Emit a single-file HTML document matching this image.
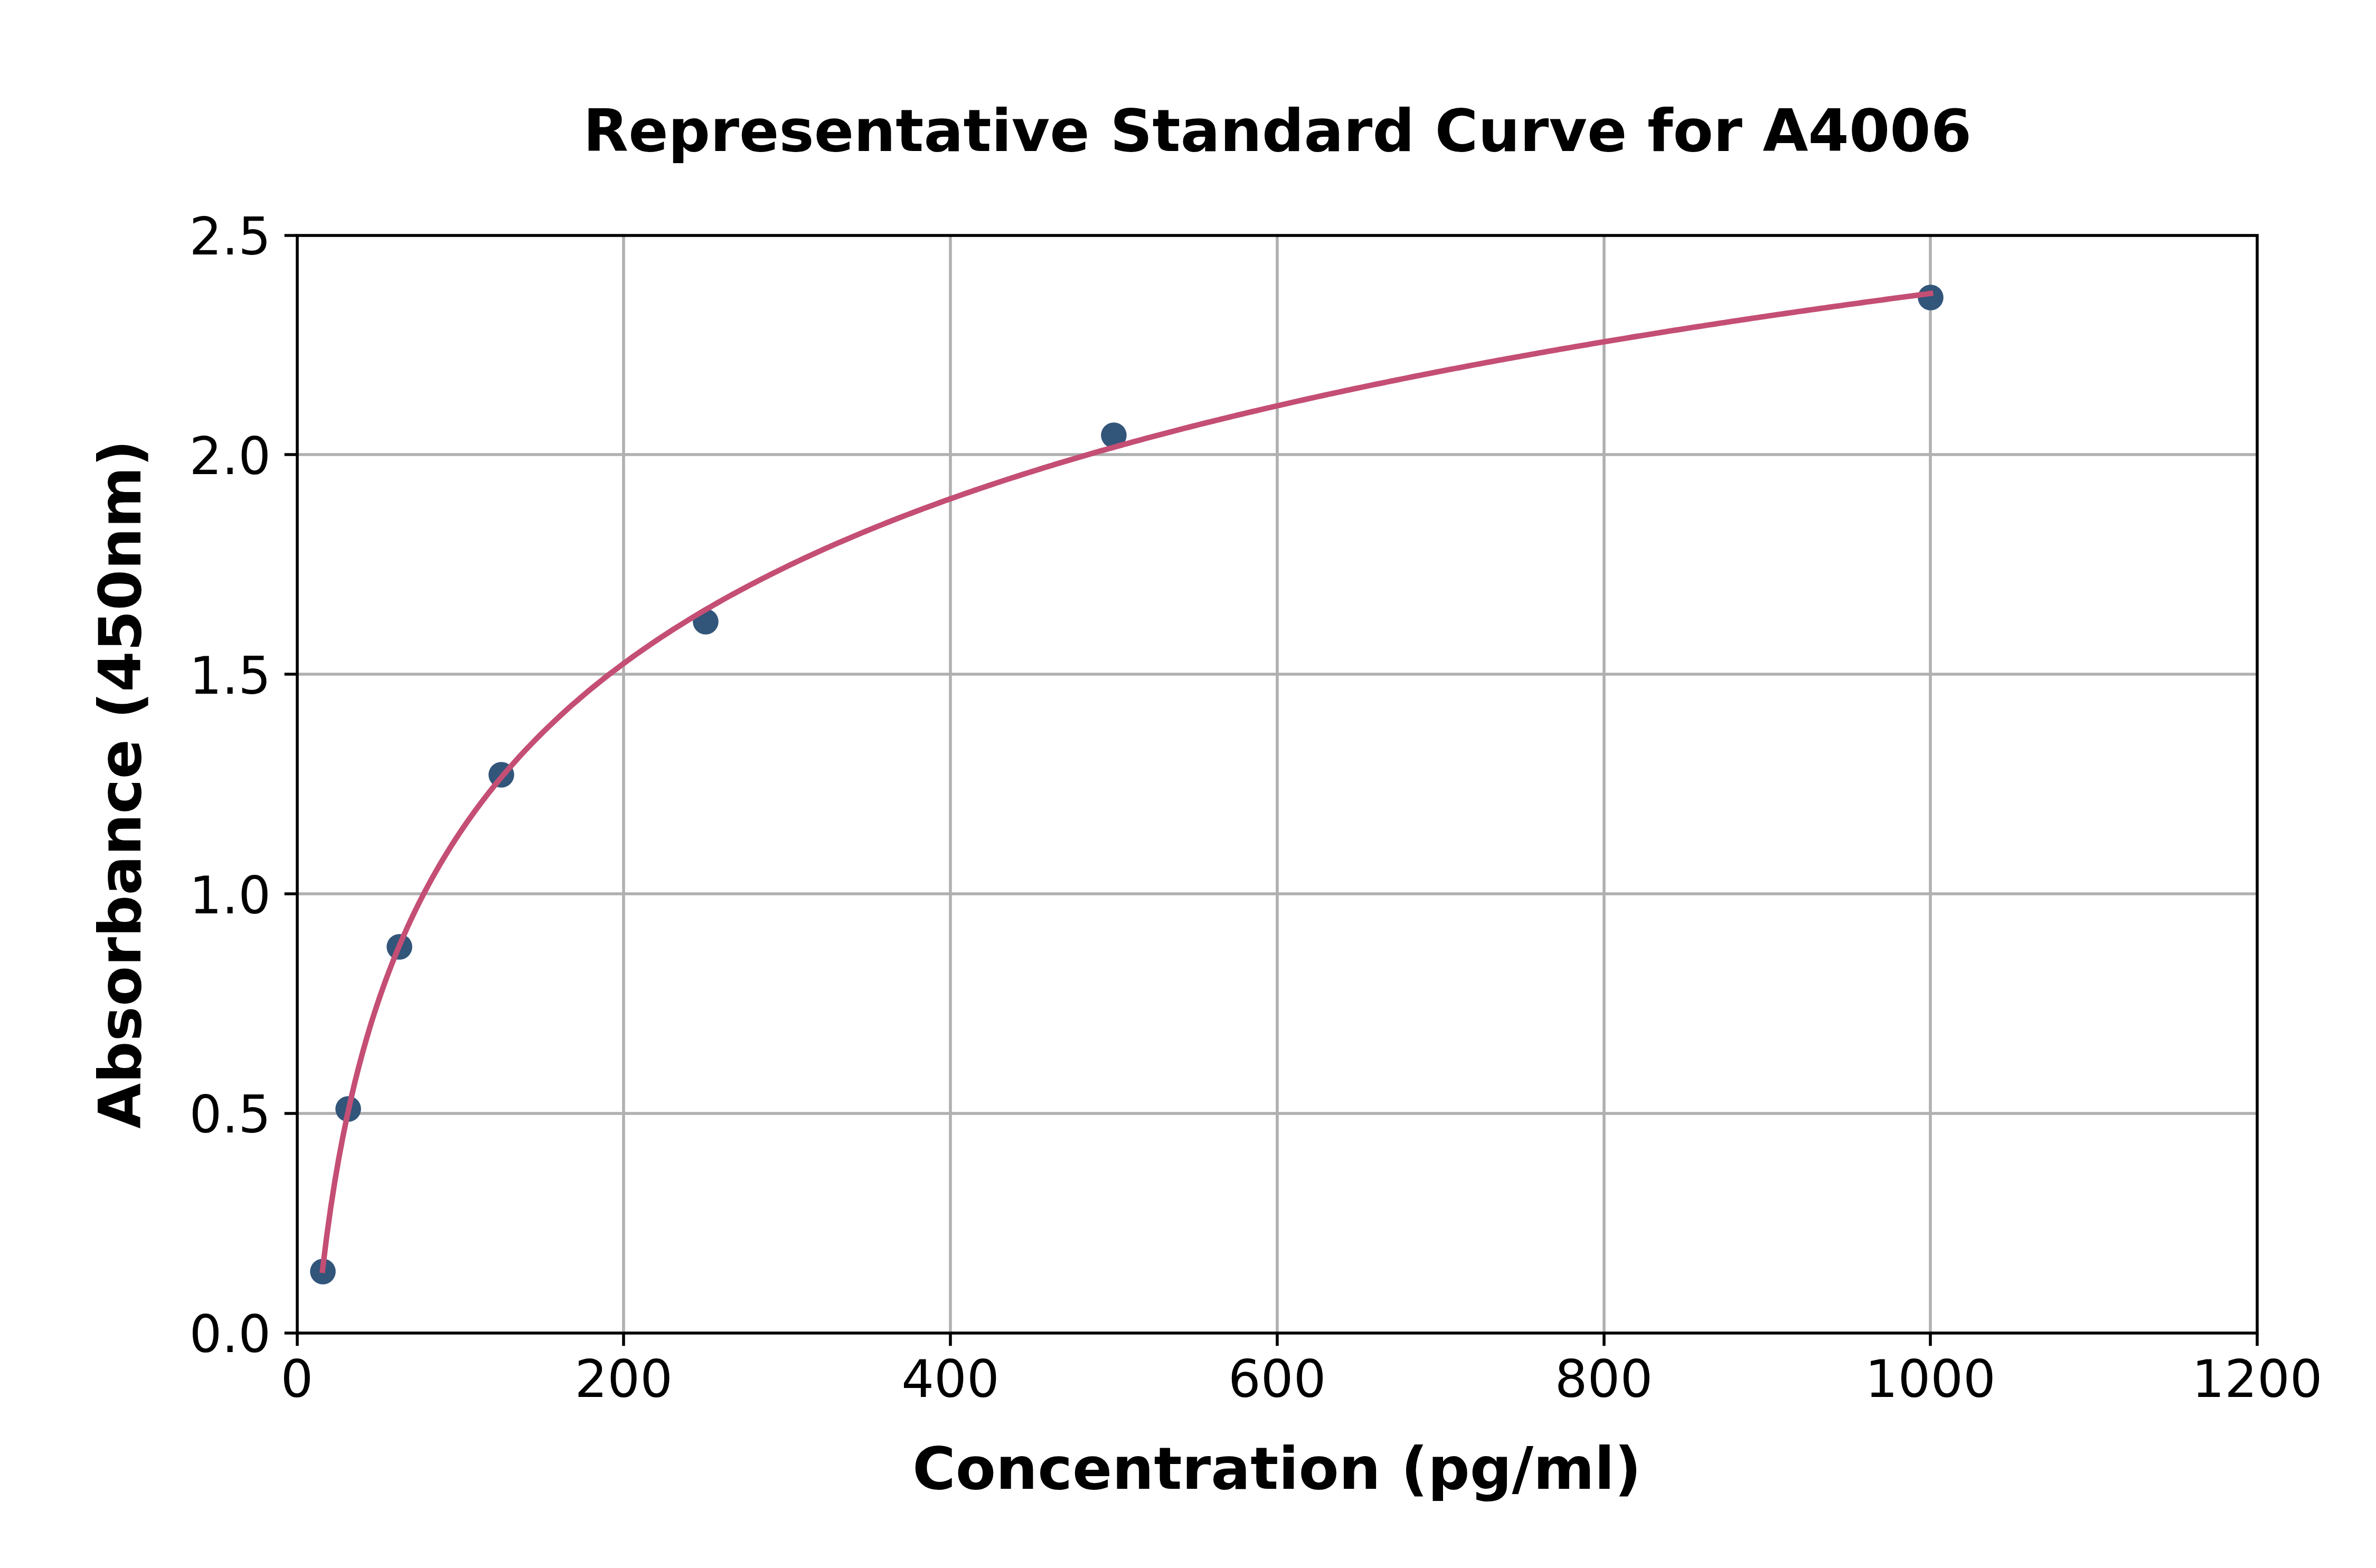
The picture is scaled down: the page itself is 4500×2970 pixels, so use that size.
<!DOCTYPE html>
<html lang="en"><head><meta charset="utf-8"><title>Representative Standard Curve for A4006</title>
<style>html,body{margin:0;padding:0;background:#fff}body{width:4500px;height:2970px;overflow:hidden}svg{display:block}text{font-family:"DejaVu Sans","Liberation Sans",sans-serif;fill:#000}.t{font-size:97.2px}.b{font-size:111.1px;font-weight:bold}</style></head><body>
<svg width="4500" height="2970" viewBox="0 0 4500 2970">
<rect width="4500" height="2970" fill="#fff"/>
<path d="M1181 446V2525M1800 446V2525M2419 446V2525M3038 446V2525M3656 446V2525M563 2109H4275M563 1693H4275M563 1277H4275M563 861H4275" stroke="#b0b0b0" stroke-width="5.56" fill="none"/>
<circle cx="611.5" cy="2408.5" r="24.3" fill="#32557a"/>
<circle cx="659.5" cy="2100.5" r="24.3" fill="#32557a"/>
<circle cx="756.5" cy="1793.5" r="24.3" fill="#32557a"/>
<circle cx="949.5" cy="1467.5" r="24.3" fill="#32557a"/>
<circle cx="1336.5" cy="1177.5" r="24.3" fill="#32557a"/>
<circle cx="2109.5" cy="824.5" r="24.3" fill="#32557a"/>
<circle cx="3656.5" cy="563.5" r="24.3" fill="#32557a"/>
<polyline points="610.84,2405.97 618.47,2343.94 626.11,2289.18 633.74,2240.13 641.37,2195.71 649.00,2155.10 656.64,2117.70 664.27,2083.03 671.90,2050.73 679.53,2020.48 687.17,1992.05 694.80,1965.22 702.43,1939.83 710.06,1915.73 717.70,1892.80 725.33,1870.92 732.96,1850.01 740.59,1829.99 748.23,1810.78 755.86,1792.32 763.49,1774.56 771.12,1757.44 778.76,1740.93 786.39,1724.97 794.02,1709.54 801.66,1694.60 809.29,1680.12 816.92,1666.08 824.55,1652.44 832.19,1639.20 839.82,1626.31 847.45,1613.78 855.08,1601.57 862.72,1589.68 870.35,1578.09 877.98,1566.77 885.61,1555.73 893.25,1544.95 900.88,1534.41 908.51,1524.10 916.14,1514.03 923.78,1504.17 931.41,1494.51 939.04,1485.06 946.67,1475.79 954.31,1466.71 961.94,1457.81 969.57,1449.07 977.20,1440.50 984.84,1432.09 992.47,1423.83 1000.10,1415.72 1007.74,1407.75 1015.37,1399.92 1023.00,1392.23 1030.63,1384.66 1038.27,1377.21 1045.90,1369.89 1053.53,1362.68 1061.16,1355.59 1068.80,1348.61 1076.43,1341.73 1084.06,1334.96 1091.69,1328.29 1099.33,1321.71 1106.96,1315.23 1114.59,1308.85 1122.22,1302.55 1129.86,1296.34 1137.49,1290.22 1145.12,1284.18 1152.75,1278.22 1160.39,1272.34 1168.02,1266.54 1175.65,1260.81 1183.29,1255.16 1190.92,1249.58 1198.55,1244.06 1206.18,1238.62 1213.82,1233.24 1221.45,1227.92 1229.08,1222.67 1236.71,1217.48 1244.35,1212.36 1251.98,1207.29 1259.61,1202.28 1267.24,1197.32 1274.88,1192.42 1282.51,1187.58 1290.14,1182.79 1297.77,1178.05 1305.41,1173.36 1313.04,1168.72 1320.67,1164.13 1328.30,1159.59 1335.94,1155.10 1343.57,1150.65 1351.20,1146.25 1358.84,1141.89 1366.47,1137.58 1374.10,1133.30 1381.73,1129.07 1389.37,1124.88 1397.00,1120.74 1404.63,1116.63 1412.26,1112.56 1419.90,1108.52 1427.53,1104.53 1435.16,1100.57 1442.79,1096.65 1450.43,1092.76 1458.06,1088.91 1465.69,1085.10 1473.32,1081.31 1480.96,1077.56 1488.59,1073.85 1496.22,1070.16 1503.85,1066.51 1511.49,1062.89 1519.12,1059.30 1526.75,1055.74 1534.39,1052.20 1542.02,1048.70 1549.65,1045.23 1557.28,1041.78 1564.92,1038.36 1572.55,1034.97 1580.18,1031.61 1587.81,1028.28 1595.45,1024.97 1603.08,1021.68 1610.71,1018.42 1618.34,1015.19 1625.98,1011.98 1633.61,1008.79 1641.24,1005.63 1648.87,1002.50 1656.51,999.38 1664.14,996.29 1671.77,993.22 1679.40,990.18 1687.04,987.15 1694.67,984.15 1702.30,981.17 1709.94,978.21 1717.57,975.27 1725.20,972.36 1732.83,969.46 1740.47,966.58 1748.10,963.72 1755.73,960.89 1763.36,958.07 1771.00,955.27 1778.63,952.49 1786.26,949.73 1793.89,946.98 1801.53,944.26 1809.16,941.55 1816.79,938.86 1824.42,936.19 1832.06,933.53 1839.69,930.89 1847.32,928.27 1854.95,925.66 1862.59,923.08 1870.22,920.50 1877.85,917.95 1885.49,915.41 1893.12,912.88 1900.75,910.37 1908.38,907.88 1916.02,905.40 1923.65,902.94 1931.28,900.49 1938.91,898.05 1946.55,895.63 1954.18,893.23 1961.81,890.84 1969.44,888.46 1977.08,886.09 1984.71,883.74 1992.34,881.41 1999.97,879.08 2007.61,876.78 2015.24,874.48 2022.87,872.19 2030.50,869.92 2038.14,867.67 2045.77,865.42 2053.40,863.19 2061.04,860.96 2068.67,858.76 2076.30,856.56 2083.93,854.37 2091.57,852.20 2099.20,850.04 2106.83,847.89 2114.46,845.75 2122.10,843.62 2129.73,841.51 2137.36,839.40 2144.99,837.31 2152.63,835.23 2160.26,833.15 2167.89,831.09 2175.52,829.04 2183.16,827.00 2190.79,824.97 2198.42,822.95 2206.05,820.94 2213.69,818.94 2221.32,816.95 2228.95,814.97 2236.59,813.00 2244.22,811.04 2251.85,809.09 2259.48,807.15 2267.12,805.22 2274.75,803.30 2282.38,801.39 2290.01,799.48 2297.65,797.59 2305.28,795.70 2312.91,793.83 2320.54,791.96 2328.18,790.10 2335.81,788.25 2343.44,786.41 2351.07,784.58 2358.71,782.75 2366.34,780.93 2373.97,779.13 2381.60,777.33 2389.24,775.54 2396.87,773.75 2404.50,771.98 2412.14,770.21 2419.77,768.45 2427.40,766.70 2435.03,764.96 2442.67,763.22 2450.30,761.49 2457.93,759.77 2465.56,758.06 2473.20,756.35 2480.83,754.66 2488.46,752.96 2496.09,751.28 2503.73,749.61 2511.36,747.94 2518.99,746.27 2526.62,744.62 2534.26,742.97 2541.89,741.33 2549.52,739.70 2557.15,738.07 2564.79,736.45 2572.42,734.84 2580.05,733.23 2587.69,731.63 2595.32,730.03 2602.95,728.45 2610.58,726.87 2618.22,725.29 2625.85,723.72 2633.48,722.16 2641.11,720.61 2648.75,719.06 2656.38,717.51 2664.01,715.98 2671.64,714.45 2679.28,712.92 2686.91,711.40 2694.54,709.89 2702.17,708.38 2709.81,706.88 2717.44,705.39 2725.07,703.90 2732.70,702.42 2740.34,700.94 2747.97,699.47 2755.60,698.00 2763.23,696.54 2770.87,695.08 2778.50,693.63 2786.13,692.19 2793.77,690.75 2801.40,689.32 2809.03,687.89 2816.66,686.47 2824.30,685.05 2831.93,683.64 2839.56,682.23 2847.19,680.83 2854.83,679.43 2862.46,678.04 2870.09,676.65 2877.72,675.27 2885.36,673.89 2892.99,672.52 2900.62,671.16 2908.25,669.79 2915.89,668.44 2923.52,667.09 2931.15,665.74 2938.78,664.40 2946.42,663.06 2954.05,661.73 2961.68,660.40 2969.32,659.07 2976.95,657.75 2984.58,656.44 2992.21,655.13 2999.85,653.82 3007.48,652.52 3015.11,651.23 3022.74,649.93 3030.38,648.65 3038.01,647.36 3045.64,646.09 3053.27,644.81 3060.91,643.54 3068.54,642.27 3076.17,641.01 3083.80,639.76 3091.44,638.50 3099.07,637.25 3106.70,636.01 3114.33,634.77 3121.97,633.53 3129.60,632.30 3137.23,631.07 3144.87,629.84 3152.50,628.62 3160.13,627.41 3167.76,626.19 3175.40,624.99 3183.03,623.78 3190.66,622.58 3198.29,621.38 3205.93,620.19 3213.56,619.00 3221.19,617.81 3228.82,616.63 3236.46,615.45 3244.09,614.28 3251.72,613.11 3259.35,611.94 3266.99,610.78 3274.62,609.62 3282.25,608.46 3289.88,607.31 3297.52,606.16 3305.15,605.01 3312.78,603.87 3320.42,602.73 3328.05,601.60 3335.68,600.47 3343.31,599.34 3350.95,598.21 3358.58,597.09 3366.21,595.97 3373.84,594.86 3381.48,593.75 3389.11,592.64 3396.74,591.54 3404.37,590.43 3412.01,589.34 3419.64,588.24 3427.27,587.15 3434.90,586.06 3442.54,584.98 3450.17,583.89 3457.80,582.82 3465.43,581.74 3473.07,580.67 3480.70,579.60 3488.33,578.53 3495.97,577.47 3503.60,576.41 3511.23,575.35 3518.86,574.30 3526.50,573.25 3534.13,572.20 3541.76,571.15 3549.39,570.11 3557.03,569.07 3564.66,568.04 3572.29,567.00 3579.92,565.97 3587.56,564.95 3595.19,563.92 3602.82,562.90 3610.45,561.88 3618.09,560.87 3625.72,559.85 3633.35,558.84 3640.98,557.83 3648.62,556.83 3656.25,555.83" fill="none" stroke="#c44e74" stroke-width="10.4" stroke-linecap="square" stroke-linejoin="round"/>
<path d="M563 2525v24.3M1181 2525v24.3M1800 2525v24.3M2419 2525v24.3M3038 2525v24.3M3656 2525v24.3M4275 2525v24.3M563 2525h-24.3M563 2109h-24.3M563 1693h-24.3M563 1277h-24.3M563 861h-24.3M563 446h-24.3" stroke="#000" stroke-width="5.56" fill="none"/>
<rect x="563" y="446" width="3712" height="2079" fill="none" stroke="#000" stroke-width="5.56" stroke-linejoin="miter"/>
<text class="t" x="562.50" y="2645.6" text-anchor="middle">0</text>
<text class="t" x="1181.25" y="2645.6" text-anchor="middle">200</text>
<text class="t" x="1800.00" y="2645.6" text-anchor="middle">400</text>
<text class="t" x="2418.75" y="2645.6" text-anchor="middle">600</text>
<text class="t" x="3037.50" y="2645.6" text-anchor="middle">800</text>
<text class="t" x="3656.25" y="2645.6" text-anchor="middle">1000</text>
<text class="t" x="4275.00" y="2645.6" text-anchor="middle">1200</text>
<text class="t" x="513" y="2561.20" text-anchor="end">0.0</text>
<text class="t" x="513" y="2145.40" text-anchor="end">0.5</text>
<text class="t" x="513" y="1729.60" text-anchor="end">1.0</text>
<text class="t" x="513" y="1313.80" text-anchor="end">1.5</text>
<text class="t" x="513" y="898.00" text-anchor="end">2.0</text>
<text class="t" x="513" y="482.20" text-anchor="end">2.5</text>
<text class="b" style="font-size:111.23px" x="2419.3" y="285.5" text-anchor="middle">Representative Standard Curve for A4006</text>
<text class="b" x="2418.4" y="2819.6" text-anchor="middle">Concentration (pg/ml)</text>
<text class="b" transform="translate(266 1485.5) rotate(-90)" text-anchor="middle">Absorbance (450nm)</text>
</svg></body></html>
